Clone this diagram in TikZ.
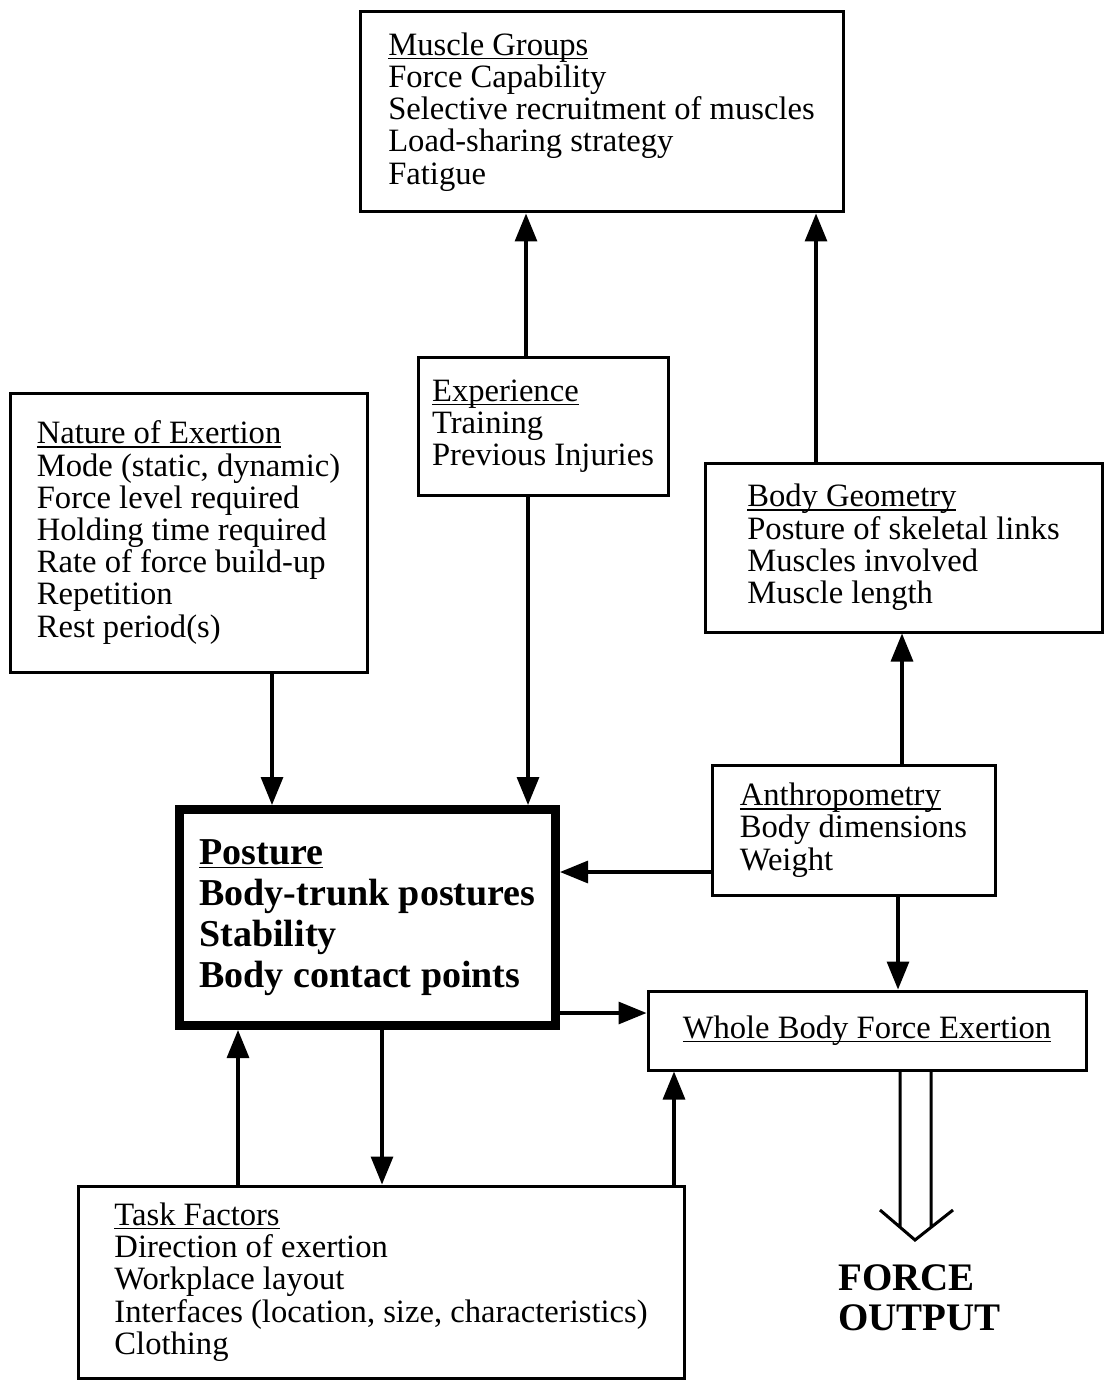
\documentclass[tikz,border=0pt]{standalone}
\usepackage{fontspec}
\setmainfont{Liberation Serif}
\usetikzlibrary{arrows.meta}
\newcommand\uln[1]{\setbox0\hbox{#1}\rlap{\rule[-2pt]{\wd0}{0.8pt}}\box0}

\begin{document}
\begin{tikzpicture}[x=0.5pt, y=-0.5pt, font=\fontsize{16.3}{16.1}\selectfont,
    box/.style={draw, line width=1.5pt, align=left, inner sep=0pt},
    arr/.style={line width=1.6pt, -{Triangle[length=14pt,width=11pt]}}]
        \useasboundingbox (0,0) rectangle (1104,1380);
        \node[box, minimum width=241.5pt, minimum height=100pt] (muscle) at (601.5,112)
          {\uln{Muscle Groups}\\Force Capability\\Selective recruitment of muscles\\Load-sharing strategy\\Fatigue};
        \node[box, minimum width=125pt, minimum height=69pt] (exper) at (543,426)
          {\uln{Experience}\\Training\\Previous Injuries};
        \node[box, minimum width=178.5pt, minimum height=139.5pt] (nature) at (188.5,532.5)
          {\uln{Nature of Exertion}\\Mode (static, dynamic)\\Force level required\\Holding time required\\Rate of force build-up\\Repetition\\Rest period(s)};
        \node[box, minimum width=198.5pt, minimum height=84.5pt] (geom) at (903.5,547.5)
          {\uln{Body Geometry}\\Posture of skeletal links\\Muscles involved\\Muscle length};
        \node[box, minimum width=141.5pt, minimum height=65pt] (anthro) at (853.5,830)
          {\uln{Anthropometry}\\Body dimensions\\Weight};
        \node[box, line width=4.5pt, minimum width=188pt, minimum height=108pt,
          font=\fontsize{19}{20.5}\selectfont\bfseries] (posture) at (367.5,917.5)
          {\uln{Posture}\\Body-trunk postures\\Stability\\Body contact points};
        \node[box, minimum width=219pt, minimum height=39.5pt] (whole) at (867,1030.5)
          {\uln{Whole Body Force Exertion}};
        \node[box, minimum width=303pt, minimum height=96pt] (task) at (381,1282)
          {\uln{Task Factors}\\Direction of exertion\\Workplace layout\\Interfaces (location, size, characteristics)\\Clothing};
        \node[anchor=west, align=left, inner sep=0pt, font=\fontsize{19.5}{20}\selectfont\bfseries] (output) at (838,1298)
          {FORCE\\OUTPUT};

        \draw[arr] (exper.north -| 526,0) -- (muscle.south -| 526,0);
        \draw[arr] (geom.north -| 816,0) -- (muscle.south -| 816,0);
        \draw[arr] (nature.south -| 272,0) -- (posture.north -| 272,0);
        \draw[arr] (exper.south -| 528,0) -- (posture.north -| 528,0);
        \draw[arr] (anthro.north -| 902,0) -- (geom.south -| 902,0);
        \draw[arr] (anthro.west |- 0,872) -- (posture.east |- 0,872);
        \draw[arr] (anthro.south -| 898,0) -- (whole.north -| 898,0);
        \draw[arr] (posture.east |- 0,1013) -- (whole.west |- 0,1013);
        \draw[arr] (posture.south -| 382,0) -- (task.north -| 382,0);
        \draw[arr] (task.north -| 238,0) -- (posture.south -| 238,0);
        \draw[arr] (task.north -| 674,0) -- (whole.south -| 674,0);

        \coordinate (tip) at (915,1240);
        \draw[line width=1.5pt] (whole.south -| 900,0) -- (900,1227)
          (whole.south -| 931,0) -- (931,1227)
          (880,1210) -- (tip) -- (953,1210);
      \end{tikzpicture}
\end{document}
